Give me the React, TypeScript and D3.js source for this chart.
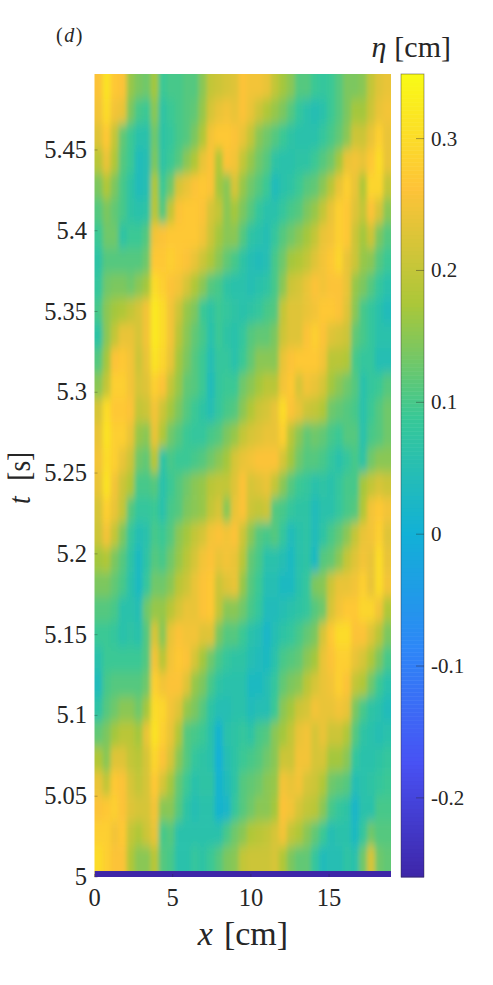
import React from 'react';
import * as d3 from 'd3';

const width = 493;
const height = 985;

// eta in hundredths of a cm, top row is the latest time
const etaRows = [
  [26,31,27,26,16,14,13,17,9,10,10,11,11,15,20,21,22,23,26,25,25,24,20,17,15,11,11,9,8,9,11,14,14,15,20,23,24],
  [25,30,25,24,14,10,9,15,7,9,10,11,12,16,22,24,25,24,26,24,21,18,16,14,11,8,6,5,6,9,11,14,17,17,21,24,25],
  [23,27,20,12,9,6,6,13,7,8,10,11,14,18,25,27,27,26,24,20,15,13,11,9,7,6,6,6,8,10,12,15,21,21,24,28,24],
  [19,24,18,11,9,4,5,14,7,9,11,15,18,24,26,18,26,25,20,16,13,11,7,6,6,7,7,9,11,13,17,24,25,24,27,30,24],
  [14,18,14,10,7,4,5,18,9,13,22,24,26,27,26,17,15,22,16,13,11,9,4,6,7,9,11,12,15,19,24,28,24,18,29,29,20],
  [11,14,12,10,7,6,7,19,11,20,26,27,27,26,22,20,15,17,14,11,8,6,6,8,10,11,14,16,20,24,28,27,23,20,26,22,15],
  [9,13,13,7,9,9,11,25,26,27,27,27,27,25,21,17,15,15,11,7,6,5,8,11,13,15,17,20,24,25,28,27,21,17,21,14,11],
  [7,11,11,11,11,11,13,27,27,28,27,26,24,21,18,15,12,10,7,5,4,5,10,13,17,18,20,23,25,27,29,24,21,16,15,11,9],
  [8,13,14,14,13,15,17,30,28,26,25,22,18,15,11,10,7,6,6,5,6,7,10,15,21,22,24,26,25,26,26,24,16,14,11,8,6],
  [10,15,17,18,20,22,25,32,30,25,21,16,14,9,7,9,8,7,6,7,8,10,11,20,23,23,24,25,27,27,26,23,15,10,8,6,4],
  [7,15,20,24,24,22,25,32,30,25,19,15,12,10,6,9,7,6,8,11,12,12,14,21,23,23,26,28,26,23,22,21,12,10,8,6,6],
  [11,17,26,27,25,21,24,31,29,24,17,14,11,9,5,8,8,6,9,12,15,15,15,24,26,27,27,27,25,19,19,18,10,8,8,5,5],
  [15,20,28,28,25,22,23,28,26,20,16,12,11,9,4,8,9,9,13,15,17,19,19,25,27,22,25,24,22,17,15,13,11,6,8,9,11],
  [22,30,27,27,26,20,21,25,21,17,14,11,9,7,5,8,10,11,15,18,21,22,24,30,26,24,21,20,18,13,12,11,10,6,9,11,13],
  [24,31,28,28,24,16,15,24,18,13,11,9,8,8,10,11,14,16,20,22,23,24,24,28,19,15,12,13,12,10,9,11,11,6,10,11,13],
  [25,30,28,24,21,13,12,19,7,10,9,9,10,11,13,15,17,22,24,25,26,26,26,22,17,13,11,11,10,8,6,8,10,7,13,15,15],
  [24,31,25,21,18,10,10,11,6,9,11,13,15,16,19,20,20,23,26,22,23,24,20,15,11,9,8,6,7,6,8,10,10,17,20,22,21],
  [22,28,24,20,11,8,8,9,6,10,11,14,15,16,20,22,15,24,26,21,20,21,11,10,8,7,7,4,6,6,8,10,11,18,25,27,25],
  [21,25,20,14,8,5,6,10,9,11,15,17,20,22,25,26,25,26,21,15,11,10,11,8,4,6,7,4,7,10,12,15,20,24,25,28,23],
  [17,18,14,11,7,3,7,11,10,13,16,19,22,25,26,24,25,24,19,12,10,6,6,5,3,6,7,3,11,12,15,20,23,25,24,30,24],
  [14,14,12,10,6,3,8,13,13,15,19,21,24,26,27,21,23,24,16,11,9,5,5,3,3,6,8,14,15,21,24,24,25,28,24,30,25],
  [11,11,10,6,6,5,13,16,16,19,22,24,24,26,27,20,15,15,13,10,8,4,4,5,6,7,8,11,13,22,25,27,27,29,29,25,18],
  [9,9,8,6,7,6,11,22,15,24,26,25,25,23,23,14,11,11,9,6,5,2,5,7,8,10,12,14,22,27,30,30,26,26,23,19,14],
  [6,9,9,9,9,9,11,25,19,25,27,26,22,17,13,10,8,7,7,5,4,3,6,10,11,12,15,17,24,26,28,28,24,22,18,14,10],
  [4,10,11,11,11,11,13,28,25,26,26,23,16,14,10,7,6,6,6,3,3,5,8,12,14,15,19,22,24,25,28,26,20,18,13,9,6],
  [7,11,13,15,15,13,17,30,29,25,23,16,14,11,7,5,5,6,6,4,5,5,9,15,17,21,22,25,24,24,25,24,14,10,7,6,4],
  [12,14,17,19,19,17,24,31,28,24,18,11,10,9,6,1,6,7,8,7,10,11,15,17,20,24,25,22,24,21,21,18,11,7,6,5,6],
  [18,15,23,23,20,19,22,29,26,22,15,11,8,7,6,0,5,7,9,10,11,13,15,21,21,25,25,22,22,17,17,15,8,6,6,7,8],
  [24,20,27,26,22,20,22,27,22,17,12,9,6,7,7,1,4,7,11,12,13,15,16,25,24,25,22,21,18,13,12,11,5,6,7,8,9],
  [26,27,28,26,23,22,22,25,15,15,11,7,5,6,6,1,2,8,11,13,15,15,17,26,25,22,20,19,15,10,8,7,2,6,6,10,10],
  [28,28,25,27,20,18,21,24,10,11,6,6,6,6,6,6,10,13,15,18,19,20,22,25,20,18,15,12,9,5,6,6,3,8,13,11,11],
  [30,28,26,26,18,15,15,19,11,10,6,6,8,7,9,11,14,15,20,21,21,21,22,18,14,12,12,8,4,5,5,7,6,13,22,13,12],
];
const firstFrameEta = -0.26;

const xTicks = [0, 5, 10, 15];
const tTicks = [5, 5.05, 5.1, 5.15, 5.2, 5.25, 5.3, 5.35, 5.4, 5.45];
const tTickLabels = ['5', '5.05', '5.1', '5.15', '5.2', '5.25', '5.3', '5.35', '5.4', '5.45'];
const cbarTicks = [-0.2, -0.1, 0, 0.1, 0.2, 0.3];
const cbarTickLabels = ['-0.2', '-0.1', '0', '0.1', '0.2', '0.3'];

const parulaStops = ['#3e26a8', '#4852f4', '#2d87f7', '#12b1d6', '#37c897', '#abc739', '#fec338', '#f9fb15'];

const left = 94.5, right = 391, top = 74, bottom = 877;
const cbLeft = 401, cbRight = 424;
const etaMin = -0.26, etaMax = 0.349;
const firstFrameEnd = 5.0037;

const x = d3.scaleLinear().domain([0, 18.96]).range([left, right]);
const t = d3.scaleLinear().domain([5, 5.497]).range([bottom, top]);
const cb = d3.scaleLinear().domain([etaMin, etaMax]).range([bottom, top]);

const color = d3.scaleLinear<string>()
  .domain(parulaStops.map((_, i) => etaMin + (i / (parulaStops.length - 1)) * (etaMax - etaMin)))
  .range(parulaStops)
  .interpolate(d3.interpolateRgb);

const colBand = d3.scaleBand<number>().domain(d3.range(etaRows[0].length)).range([left, right]);
const rowBand = d3.scaleBand<number>().domain(d3.range(etaRows.length)).range([t(5.497), t(firstFrameEnd)]);
const cbSteps = d3.range(0, 200);

const serif = '"Liberation Serif", serif';
const ink = '#262626';

export default function App() {
  const pad = 24;
  return (
    <svg width={width} height={height} style={{ position: 'absolute', left: 0, top: 0 }} fontFamily={serif}>
      <defs>
        <clipPath id="plotClip">
          <rect x={left} y={top} width={right - left} height={bottom - top} />
        </clipPath>
        <filter id="soften" filterUnits="userSpaceOnUse" x={left - pad} y={top - pad} width={right - left + 2 * pad} height={bottom - top + 2 * pad}>
          <feGaussianBlur stdDeviation="2 6" />
        </filter>
      </defs>

      <g clipPath="url(#plotClip)">
        <g filter="url(#soften)">
          {etaRows.map((row, r) =>
            row.map((v, c) => {
              // edge cells run past the box so the softening does not fade at the border
              const x0 = colBand(c)! - (c === 0 ? pad : 0);
              const x1 = colBand(c)! + colBand.bandwidth() + (c === row.length - 1 ? pad : 0);
              const y0 = rowBand(r)! - (r === 0 ? pad : 0);
              const y1 = rowBand(r)! + rowBand.bandwidth() + (r === etaRows.length - 1 ? pad : 0);
              return <rect key={r + '-' + c} x={x0} y={y0} width={x1 - x0 + 0.5} height={y1 - y0 + 0.5} fill={color(v / 100)} />;
            })
          )}
        </g>
        <rect x={left} y={t(firstFrameEnd)} width={right - left} height={bottom - t(firstFrameEnd)} fill={color(firstFrameEta)} />
      </g>

      {tTicks.map((d, i) => (
        <g key={d}>
          <line x1={left} x2={left + 3} y1={t(d)} y2={t(d)} stroke={ink} strokeOpacity={0.5} strokeWidth={0.6} />
          <text x={87} y={t(d) + 8} textAnchor="end" fontSize={24.5} fill={ink}>{tTickLabels[i]}</text>
        </g>
      ))}
      {xTicks.map(d => (
        <g key={d}>
          <line x1={x(d)} x2={x(d)} y1={bottom} y2={bottom - 3} stroke={ink} strokeOpacity={0.5} strokeWidth={0.6} />
          <text x={x(d)} y={906} textAnchor="middle" fontSize={24.5} fill={ink}>{d}</text>
        </g>
      ))}

      <text x={243} y={945} textAnchor="middle" fontSize={34} fill={ink}>
        <tspan fontStyle="italic">x</tspan><tspan dx={11}>[cm]</tspan>
      </text>
      <text transform="translate(30,478) rotate(-90) scale(0.88,1)" textAnchor="middle" fontSize={31} fill={ink}>
        <tspan fontStyle="italic">t</tspan><tspan dx={18}>[s]</tspan>
      </text>
      <text x={56} y={42} fontSize={20} letterSpacing={1.5} fill={ink}>(<tspan fontStyle="italic">d</tspan>)</text>

      <text x={451} y={57} textAnchor="end" fontSize={30} fill={ink}>
        <tspan fontStyle="italic">η</tspan><tspan dx={8}>[cm]</tspan>
      </text>

      {cbSteps.map(i => {
        const a = etaMin + (i / cbSteps.length) * (etaMax - etaMin);
        const b = etaMin + ((i + 1) / cbSteps.length) * (etaMax - etaMin);
        return <rect key={i} x={cbLeft} y={cb(b)} width={cbRight - cbLeft} height={cb(a) - cb(b) + 0.5} fill={color((a + b) / 2)} />;
      })}
      <rect x={cbLeft} y={top} width={cbRight - cbLeft} height={bottom - top} fill="none" stroke={ink} strokeOpacity={0.6} strokeWidth={0.7} />
      {cbarTicks.map((d, i) => (
        <g key={d}>
          <line x1={cbRight - 8} x2={cbRight} y1={cb(d)} y2={cb(d)} stroke={ink} strokeOpacity={0.6} strokeWidth={0.7} />
          <text x={431} y={cb(d) + 7} fontSize={21} fill={ink}>{cbarTickLabels[i]}</text>
        </g>
      ))}
    </svg>
  );
}
